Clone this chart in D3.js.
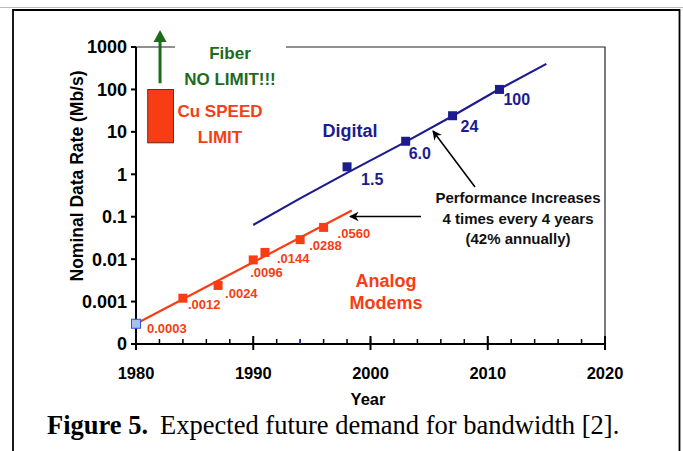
<!DOCTYPE html>
<html>
<head>
<meta charset="utf-8">
<script src="https://cdn.jsdelivr.net/npm/d3@7"></script>
<style>
  body { margin: 0; background: #fff; }
  svg { display: block; font-family: "Liberation Sans", Arial, sans-serif; }
</style>
</head>
<body>
<div id="chart"></div>
<script>
// data
const ANALOG_YEARS = [1980, 1984, 1987, 1990, 1991, 1994, 1996];
const ANALOG_RATES = [0.0003, 0.0012, 0.0024, 0.0096, 0.0144, 0.0288, 0.0560];
const ANALOG_LABELS = ["0.0003", ".0012", ".0024", ".0096", ".0144", ".0288", ".0560"];
const ANALOG_TREND_YEARS = [1980, 1998.4];
const ANALOG_TREND_RATES = [0.0003, 0.14];

const DIGITAL_YEARS = [1998, 2003, 2007, 2011];
const DIGITAL_RATES = [1.5, 6.0, 24, 100];
const DIGITAL_LABELS = ["1.5", "6.0", "24", "100"];
const DIGITAL_TREND_YEARS = [1990, 1994, 1998, 2003, 2007, 2011, 2015];
const DIGITAL_TREND_RATES = [0.064, 0.27, 1.08, 5.8, 23.6, 102, 400];

const CU_YEARS = [1981, 1983.2];
const CU_RATES = [5.5, 100];
const FIBER_YEAR = 1982.05;
const FIBER_RATES = [140, 2500];

const Y_TICKS = [0.0001, 0.001, 0.01, 0.1, 1, 10, 100, 1000];
const Y_TICK_LABELS = ["0", "0.001", "0.01", "0.1", "1", "10", "100", "1000"];
const X_TICKS = [1980, 1990, 2000, 2010, 2020];
const X_MINOR_TICKS = d3.range(1980, 2021, 2);

// label offsets from their points (px)
const ANALOG_OFFSETS = [[11, 9], [5, 11], [7, 13], [-3, 17], [12, 11], [9, 10], [14, 11]];
const DIGITAL_OFFSETS = [[14, 18], [3, 18], [8, 16], [4, 16]];

const RED = "#f83c14";
const BLUE = "#1c1c8f";
const GREEN = "#1d6b1d";

const FRAME_HEIGHT = 451;
const FRAME_WIDTH = 683;
const MARGINS = {left: 136, right: 78, top: 47, bottom: 107};
const VIS_HEIGHT = FRAME_HEIGHT - MARGINS.top - MARGINS.bottom;
const VIS_WIDTH = FRAME_WIDTH - MARGINS.left - MARGINS.right;

const FRAME = d3.select("#chart")
                .append("svg")
                  .attr("height", FRAME_HEIGHT)
                  .attr("width", FRAME_WIDTH);

const X_SCALE = d3.scaleLinear()
                  .domain([1980, 2020])
                  .range([MARGINS.left, MARGINS.left + VIS_WIDTH]);
const Y_SCALE = d3.scaleLog()
                  .domain([0.0001, 1000])
                  .range([MARGINS.top + VIS_HEIGHT, MARGINS.top]);

// outer page box
FRAME.append("line").attr("x1", 0).attr("x2", FRAME_WIDTH).attr("y1", 7.5).attr("y2", 7.5)
     .attr("stroke", "#bbb").attr("stroke-width", 1);
FRAME.append("path")
     .attr("d", "M13," + FRAME_HEIGHT + "V10H679.5V" + FRAME_HEIGHT)
     .attr("fill", "none").attr("stroke", "#000").attr("stroke-width", 1.8);

// plot frame (top + right)
FRAME.append("path")
     .attr("d", "M" + X_SCALE(1980) + "," + Y_SCALE(1000) + "H" + X_SCALE(2020) + "V" + Y_SCALE(0.0001))
     .attr("fill", "none").attr("stroke", "#222").attr("stroke-width", 1.2);

// white box behind fiber text
FRAME.append("rect").attr("x", 175).attr("y", 38).attr("width", 111).attr("height", 52).attr("fill", "#fff");

// x axis
const xAxis = FRAME.append("g").attr("transform", "translate(0," + Y_SCALE(0.0001) + ")");
xAxis.append("line").attr("x1", X_SCALE(1980)).attr("x2", X_SCALE(2020))
     .attr("stroke", "#000").attr("stroke-width", 2);
xAxis.selectAll(".minor").data(X_MINOR_TICKS).enter().append("line")
     .attr("x1", d => X_SCALE(d)).attr("x2", d => X_SCALE(d))
     .attr("y1", -5).attr("y2", 0).attr("stroke", "#000").attr("stroke-width", 1.5);
xAxis.selectAll(".major").data(X_TICKS).enter().append("line")
     .attr("x1", d => X_SCALE(d)).attr("x2", d => X_SCALE(d))
     .attr("y1", -8).attr("y2", 6).attr("stroke", "#000").attr("stroke-width", 2);
xAxis.selectAll(".lbl").data(X_TICKS).enter().append("text")
     .attr("x", d => X_SCALE(d)).attr("y", 35)
     .attr("text-anchor", "middle").attr("font-size", "16.5px").attr("font-weight", "bold")
     .text(d => d);
xAxis.append("line").attr("x1", X_SCALE(1994)).attr("x2", X_SCALE(1994))
     .attr("y1", -4).attr("y2", 0).attr("stroke", "#2233cc").attr("stroke-width", 1.5);

// y axis
const yAxis = FRAME.append("g").attr("transform", "translate(" + X_SCALE(1980) + ",0)");
yAxis.append("line").attr("y1", Y_SCALE(0.0001) + 6).attr("y2", Y_SCALE(1000))
     .attr("stroke", "#000").attr("stroke-width", 2);
yAxis.selectAll(".tk").data(Y_TICKS).enter().append("line")
     .attr("x1", -5).attr("x2", 0).attr("y1", d => Y_SCALE(d)).attr("y2", d => Y_SCALE(d))
     .attr("stroke", "#000").attr("stroke-width", 2);
yAxis.selectAll(".lbl").data(Y_TICKS).enter().append("text")
     .attr("x", -9).attr("y", d => Y_SCALE(d)).attr("dy", "0.36em")
     .attr("text-anchor", "end").attr("font-size", "18px").attr("font-weight", "bold")
     .text((d, i) => Y_TICK_LABELS[i]);

// axis titles
FRAME.append("text")
     .attr("x", 368).attr("y", 405)
     .attr("text-anchor", "middle").attr("font-size", "16.5px").attr("font-weight", "bold")
     .text("Year");
FRAME.append("text")
     .attr("transform", "translate(83,176) rotate(-90)")
     .attr("text-anchor", "middle").attr("font-size", "17.5px").attr("font-weight", "bold")
     .text("Nominal Data Rate (Mb/s)");

// copper limit box
FRAME.append("rect")
     .attr("x", X_SCALE(CU_YEARS[0])).attr("y", Y_SCALE(CU_RATES[1]))
     .attr("width", X_SCALE(CU_YEARS[1]) - X_SCALE(CU_YEARS[0]))
     .attr("height", Y_SCALE(CU_RATES[0]) - Y_SCALE(CU_RATES[1]))
     .attr("fill", "#f83c14").attr("stroke", "#222").attr("stroke-width", 0.8);

// fiber arrow
FRAME.append("line")
     .attr("x1", X_SCALE(FIBER_YEAR)).attr("x2", X_SCALE(FIBER_YEAR))
     .attr("y1", Y_SCALE(FIBER_RATES[0])).attr("y2", Y_SCALE(FIBER_RATES[1]) + 10)
     .attr("stroke", GREEN).attr("stroke-width", 3);
FRAME.append("path")
     .attr("d", "M" + X_SCALE(FIBER_YEAR) + "," + Y_SCALE(FIBER_RATES[1]) +
                "l-6.5,12h13z")
     .attr("fill", GREEN);

const note = (x, y, txt, col, size) => FRAME.append("text")
     .attr("x", x).attr("y", y).attr("text-anchor", "middle")
     .attr("font-size", size).attr("font-weight", "bold").attr("fill", col).text(txt);

note(230, 59, "Fiber", GREEN, "17px");
note(230, 85, "NO LIMIT!!!", GREEN, "17px");
note(220, 117, "Cu SPEED", RED, "17px");
note(220, 143, "LIMIT", RED, "17px");
note(350, 137, "Digital", BLUE, "18px");
note(386, 287, "Analog", RED, "18px");
note(386, 309, "Modems", RED, "18px");
note(518, 203, "Performance Increases", "#111", "15px");
note(518, 224, "4 times every 4 years", "#111", "15px");
note(518, 244, "(42% annually)", "#111", "15px");

// trend lines
const line = d3.line().x(d => X_SCALE(d[0])).y(d => Y_SCALE(d[1]));
FRAME.append("path")
     .datum(DIGITAL_TREND_YEARS.map((y, i) => [y, DIGITAL_TREND_RATES[i]]))
     .attr("d", line)
     .attr("fill", "none").attr("stroke", BLUE).attr("stroke-width", 2.2)
     .attr("stroke-linejoin", "round");
FRAME.append("path")
     .datum(ANALOG_TREND_YEARS.map((y, i) => [y, ANALOG_TREND_RATES[i]]))
     .attr("d", line)
     .attr("fill", "none").attr("stroke", RED).attr("stroke-width", 2.2);

// arrows
FRAME.append("defs").append("marker")
     .attr("id", "head").attr("viewBox", "0 0 10 10").attr("refX", 9).attr("refY", 5)
     .attr("markerWidth", 6).attr("markerHeight", 6).attr("orient", "auto")
     .append("path").attr("d", "M0,0L10,5L0,10L3,5z").attr("fill", "#000");
FRAME.append("line").attr("x1", 475).attr("y1", 187).attr("x2", 433).attr("y2", 131)
     .attr("stroke", "#000").attr("stroke-width", 1.6).attr("marker-end", "url(#head)");
FRAME.append("line").attr("x1", 421).attr("y1", 216.5).attr("x2", 350).attr("y2", 216.5)
     .attr("stroke", "#000").attr("stroke-width", 1.6).attr("marker-end", "url(#head)");

// analog points
FRAME.selectAll(".apt").data(ANALOG_YEARS).enter().append("rect")
     .attr("x", d => X_SCALE(d) - 4.5)
     .attr("y", (d, i) => Y_SCALE(ANALOG_RATES[i]) - 4.5)
     .attr("width", 9).attr("height", 9)
     .attr("fill", (d, i) => i === 0 ? "#a8c0f0" : RED)
     .attr("stroke", (d, i) => i === 0 ? "#3355dd" : "none").attr("stroke-width", 1);
FRAME.selectAll(".alb").data(ANALOG_YEARS).enter().append("text")
     .attr("x", (d, i) => X_SCALE(d) + ANALOG_OFFSETS[i][0])
     .attr("y", (d, i) => Y_SCALE(ANALOG_RATES[i]) + ANALOG_OFFSETS[i][1])
     .attr("font-size", "13px").attr("font-weight", "bold").attr("fill", RED)
     .text((d, i) => ANALOG_LABELS[i]);

// digital points
FRAME.selectAll(".dpt").data(DIGITAL_YEARS).enter().append("rect")
     .attr("x", d => X_SCALE(d) - 4.5)
     .attr("y", (d, i) => Y_SCALE(DIGITAL_RATES[i]) - 4.5)
     .attr("width", 9).attr("height", 9).attr("fill", BLUE);
FRAME.selectAll(".dlb").data(DIGITAL_YEARS).enter().append("text")
     .attr("x", (d, i) => X_SCALE(d) + DIGITAL_OFFSETS[i][0])
     .attr("y", (d, i) => Y_SCALE(DIGITAL_RATES[i]) + DIGITAL_OFFSETS[i][1])
     .attr("font-size", "16px").attr("font-weight", "bold").attr("fill", BLUE)
     .text((d, i) => DIGITAL_LABELS[i]);

// caption
const cap = FRAME.append("text")
     .attr("x", 47).attr("y", 434)
     .attr("font-family", "'Liberation Serif', 'Times New Roman', serif").attr("font-size", "26.5px");
cap.append("tspan").attr("font-weight", "bold").text("Figure 5.");
cap.append("tspan").attr("dx", 12).text("Expected future demand for bandwidth [2].");
</script>
</body>
</html>
